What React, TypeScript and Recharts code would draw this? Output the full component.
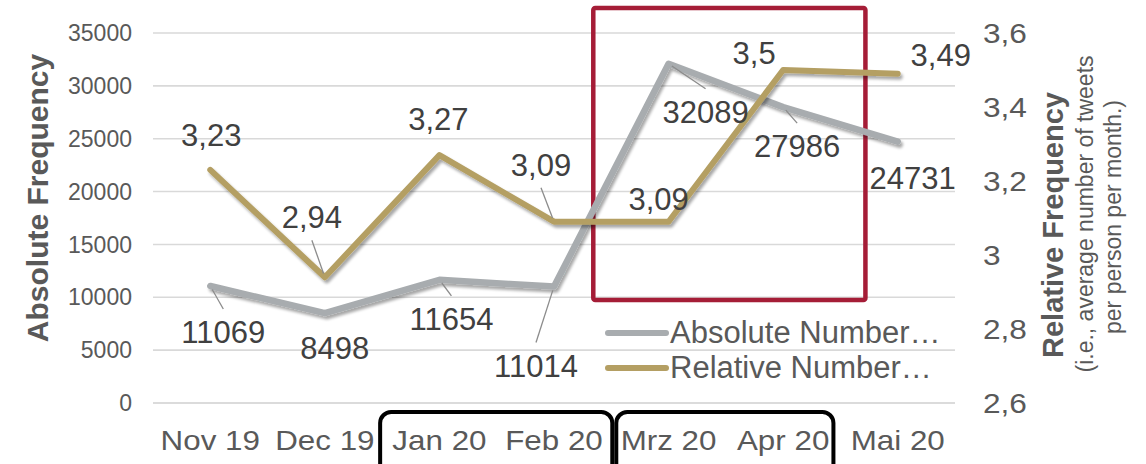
import React from 'react';
import {
  LineChart,
  Line,
  XAxis,
  YAxis,
  CartesianGrid,
  Legend,
  LabelList,
  ReferenceArea,
} from 'recharts';

const FONT = '"Liberation Sans", Arial, Helvetica, sans-serif';

// ---- data ----
const months = ['Nov 19', 'Dec 19', 'Jan 20', 'Feb 20', 'Mrz 20', 'Apr 20', 'Mai 20'];
const absoluteValues = [11069, 8498, 11654, 11014, 32089, 27986, 24731];
const relativeValues = [3.23, 2.94, 3.27, 3.09, 3.09, 3.5, 3.49];
const leftTicks = [0, 5000, 10000, 15000, 20000, 25000, 30000, 35000];
const rightTicks = [2.6, 2.8, 3.0, 3.2, 3.4, 3.6];
const absName = 'Absolute Number…';
const relName = 'Relative Number…';

// label placement (offsets from the data point, in px)
const absLabelDx = [13, 10, 12, -18, 37, 14, 15];
const absLabelDy = [46, 35, 39, 79, 48, 39, 36];
const relLabelDx = [1, -13, -1, -13, -10, -29, 43];
const relLabelDy = [-35, -60, -36, -57, -23, -17, -19];
const absLeader = [true, false, true, true, true, true, false];
const relLeader = [false, true, false, true, false, false, false];

const data = months.map((m, i) => ({
  month: m,
  absolute: absoluteValues[i],
  relative: relativeValues[i],
}));

const GRAY = '#a8acaf';
const GOLD = '#b49f63';
const TEXT = '#595959';
const LABEL = '#404040';

const fmtComma = (v: number) => String(Math.round(v * 100) / 100).replace('.', ',');

const makeLabel =
  (dxs: number[], dys: number[], leaders: boolean[], isRel: boolean) =>
  (props: any) => {
    const idx = props.index ?? 0;
    const px = props.x ?? props.viewBox?.x;
    const py = props.y ?? props.viewBox?.y;
    if (px == null || py == null) return null;
    const cx = px + dxs[idx];
    const cy = py + dys[idx];
    const txt = isRel ? fmtComma(Number(props.value)) : String(props.value);
    const fs = 31;
    let leader = null;
    if (leaders[idx]) {
      const sy = cy + (py > cy ? 23 : -23);
      const len = Math.hypot(px - cx, py - sy);
      const k = len > 0 ? (len - 4) / len : 0;
      leader = (
        <line
          x1={cx}
          y1={sy}
          x2={cx + (px - cx) * k}
          y2={sy + (py - sy) * k}
          stroke="#8c8c8c"
          strokeWidth={1.3}
        />
      );
    }
    return (
      <g>
        {leader}
        <text
          x={cx}
          y={cy + fs * 0.355}
          textAnchor="middle"
          fontSize={fs}
          fontFamily={FONT}
          fill={LABEL}
        >
          {txt}
        </text>
      </g>
    );
  };

const XTick = (props: any) => {
  const { x, y, payload } = props;
  return (
    <text
      transform={`translate(${x},${y + 47}) scale(1.12,1)`}
      textAnchor="middle"
      fontSize={28}
      fontFamily={FONT}
      fill={TEXT}
    >
      {payload.value}
    </text>
  );
};

const RightTick = (props: any) => {
  const { x, y, payload } = props;
  return (
    <text
      transform={`translate(${x},${y + 10}) scale(1.13,1)`}
      textAnchor="start"
      fontSize={28}
      fontFamily={FONT}
      fill={TEXT}
    >
      {fmtComma(Number(payload.value))}
    </text>
  );
};

const LeftTitle = (props: any) => {
  const vb = props.viewBox || { x: 0, y: 33, width: 153, height: 370 };
  const bx = vb.x + 48;
  const cy = vb.y + vb.height / 2 - 20;
  return (
    <text
      x={bx}
      y={cy}
      transform={`rotate(-90 ${bx} ${cy})`}
      textAnchor="middle"
      fontSize={30}
      fontWeight="bold"
      fontFamily={FONT}
      fill={TEXT}
    >
      Absolute Frequency
    </text>
  );
};

const RightTitle = (props: any) => {
  const vb = props.viewBox || { x: 955, y: 33, width: 191, height: 370 };
  const mid = vb.y + vb.height / 2;
  const b1 = vb.x + 108;
  const c1 = mid + 7;
  const b2 = vb.x + 138;
  const c2 = mid - 4;
  const b3 = vb.x + 166;
  const c3 = mid - 1;
  return (
    <g>
      <text
        x={b1}
        y={c1}
        transform={`rotate(-90 ${b1} ${c1})`}
        textAnchor="middle"
        fontSize={29}
        fontWeight="bold"
        fontFamily={FONT}
        fill={TEXT}
      >
        Relative Frequency
      </text>
      <text
        x={b2}
        y={c2}
        transform={`rotate(-90 ${b2} ${c2})`}
        textAnchor="middle"
        fontSize={23}
        fontFamily={FONT}
        fill={TEXT}
      >
        (i.e., average number of tweets
      </text>
      <text
        x={b3}
        y={c3}
        transform={`rotate(-90 ${b3} ${c3})`}
        textAnchor="middle"
        fontSize={23}
        fontFamily={FONT}
        fill={TEXT}
      >
        per person per month.)
      </text>
    </g>
  );
};

const renderLegend = (props: any) => {
  const payload = props.payload || [];
  return (
    <div style={{ fontFamily: FONT, fontSize: 31, color: TEXT }}>
      {payload.map((entry: any) => (
        <div
          key={entry.value}
          style={{ display: 'flex', alignItems: 'center', height: 35, whiteSpace: 'nowrap', lineHeight: '35px' }}
        >
          <svg width={66} height={12} style={{ marginRight: 1, display: 'block' }}>
            <line x1={5} y1={6} x2={63} y2={6} stroke={entry.color} strokeWidth={6} strokeLinecap="round" />
          </svg>
          <span>{entry.value}</span>
        </div>
      ))}
    </div>
  );
};

const redBox = (props: any) => {
  const { x, y, width, height } = props;
  return (
    <rect
      x={x - 18}
      y={y - 25}
      width={width + 43}
      height={height + 25}
      fill="none"
      stroke="#a51d37"
      strokeWidth={4.5}
      rx={2}
    />
  );
};

const makeBlackBox = (inL: number, inR: number) => (props: any) => {
  const { x, y, width, height } = props;
  return (
    <rect
      x={x + inL}
      y={y + height + 9}
      width={width - inL - inR}
      height={70}
      fill="none"
      stroke="#000000"
      strokeWidth={4}
      rx={11}
    />
  );
};

export default function App() {
  return (
    <div style={{ position: 'absolute', left: 0, top: 0, width: 1146, height: 464, background: '#ffffff' }}>
      <LineChart
        width={1146}
        height={464}
        data={data}
        margin={{ top: 33, right: 0, bottom: 0, left: 0 }}
      >
        <defs>
          <filter id="lineShadow" filterUnits="userSpaceOnUse" x={0} y={0} width={1146} height={464}>
            <feGaussianBlur in="SourceAlpha" stdDeviation={1.6} />
            <feOffset dx={2} dy={3} result="off" />
            <feComponentTransfer>
              <feFuncA type="linear" slope={0.35} />
            </feComponentTransfer>
            <feMerge>
              <feMergeNode />
              <feMergeNode in="SourceGraphic" />
            </feMerge>
          </filter>
        </defs>
        <CartesianGrid yAxisId="left" vertical={false} stroke="#d9d9d9" strokeWidth={1.6} />
        <XAxis
          dataKey="month"
          scale="band"
          height={61}
          interval={0}
          tickLine={false}
          axisLine={{ stroke: '#d9d9d9', strokeWidth: 1.6 }}
          tickSize={0}
          tickMargin={0}
          tick={<XTick />}
        />
        <YAxis
          yAxisId="left"
          orientation="left"
          width={153}
          domain={[0, 35000]}
          ticks={leftTicks}
          interval={0}
          axisLine={false}
          tickLine={false}
          tickSize={0}
          tickMargin={21}
          tick={{ fontSize: 23, fill: TEXT, fontFamily: FONT }}
          label={<LeftTitle />}
        />
        <YAxis
          yAxisId="right"
          orientation="right"
          width={191}
          domain={[2.6, 3.6]}
          ticks={rightTicks}
          interval={0}
          axisLine={false}
          tickLine={false}
          tickSize={0}
          tickMargin={28}
          tick={<RightTick />}
          label={<RightTitle />}
        />
        <Legend
          layout="horizontal"
          verticalAlign="middle"
          align="center"
          content={renderLegend}
          wrapperStyle={{ position: 'absolute', left: 603, top: 315, width: 400, height: 70 }}
        />
        <Line
          yAxisId="left"
          type="linear"
          dataKey="absolute"
          name={absName}
          stroke={GRAY}
          strokeWidth={6.5}
          strokeLinejoin="round"
          strokeLinecap="round"
          dot={false}
          activeDot={false}
          filter="url(#lineShadow)"
          isAnimationActive={false}
        >
          <LabelList dataKey="absolute" content={makeLabel(absLabelDx, absLabelDy, absLeader, false)} />
        </Line>
        <Line
          yAxisId="right"
          type="linear"
          dataKey="relative"
          name={relName}
          stroke={GOLD}
          strokeWidth={6}
          strokeLinejoin="round"
          strokeLinecap="round"
          dot={false}
          activeDot={false}
          filter="url(#lineShadow)"
          isAnimationActive={false}
        >
          <LabelList dataKey="relative" content={makeLabel(relLabelDx, relLabelDy, relLeader, true)} />
        </Line>
        <ReferenceArea
          yAxisId="left"
          x1="Mrz 20"
          x2="Apr 20"
          y1={9750}
          y2={35000}
          ifOverflow="visible"
          shape={redBox}
        />
        <ReferenceArea
          yAxisId="left"
          x1="Jan 20"
          x2="Feb 20"
          y1={0}
          y2={35000}
          ifOverflow="visible"
          shape={makeBlackBox(-2, -1)}
        />
        <ReferenceArea
          yAxisId="left"
          x1="Mrz 20"
          x2="Apr 20"
          y1={0}
          y2={35000}
          ifOverflow="visible"
          shape={makeBlackBox(5, 7)}
        />
      </LineChart>
    </div>
  );
}
